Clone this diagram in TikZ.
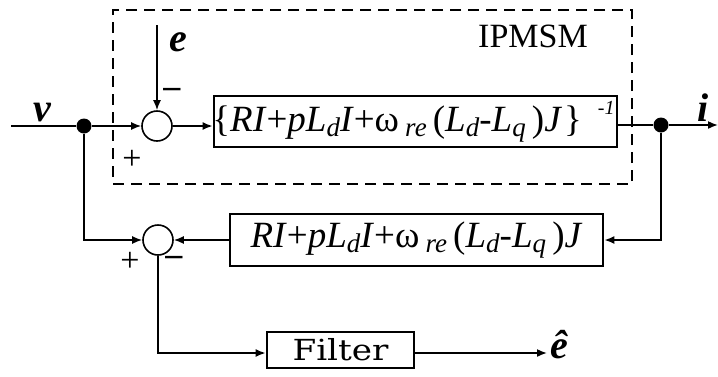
\documentclass[tikz,border=0pt]{standalone}
\usepackage{fontspec}
\setmainfont{Liberation Serif}
\newfontfamily\filterfont{DejaVu Serif}
\usetikzlibrary{arrows.meta}
\tikzset{
  conn/.style={line width=1.6pt, -{Latex[length=10pt,width=8pt]}},
  wire/.style={line width=1.6pt},
  blk/.style={draw, line width=2.8pt, inner sep=0pt, font=\fontsize{37}{37}\selectfont},
  sumpt/.style={draw, circle, line width=1.6pt, minimum size=30pt, inner sep=0pt},
  dotpt/.style={fill, circle, minimum size=15pt, inner sep=0pt},
  plantbox/.style={draw, dashed, line width=1.4pt, dash pattern=on 11pt off 7pt, inner sep=0pt},
  sig/.style={font=\fontsize{40}{40}\selectfont\bfseries\itshape, inner sep=0pt},
  sgn/.style={font=\fontsize{34}{34}\selectfont, inner sep=0pt},
}
% italic subscript set a little below the baseline
\newcommand{\lowidx}[1]{\raisebox{-5pt}{\fontsize{27}{27}\selectfont\textit{#1}}}
\newcommand{\opexpr}{\textit{RI}+\textit{pL}\lowidx{d}\textit{I}+ω\,\lowidx{re}\,(\textit{L}\lowidx{d}-\textit{L}\lowidx{q}\,)\textit{J}}
\begin{document}
\begin{tikzpicture}[x=1pt, y=-1pt]
  \useasboundingbox (0,0) rectangle (718,376);

  % motor model boundary
  \node[plantbox, minimum width=519pt, minimum height=174pt] (plant) at (372.5,97) {};
  \node[font=\fontsize{34}{34}\selectfont, inner sep=0pt] (plantlab) at (533,36) {IPMSM};

  % forward path
  \coordinate (in) at (11,126);
  \node[dotpt] (j1) at (84,126) {};
  \node[sumpt] (s1) at (157,126) {};
  \coordinate (etop) at (157,25);
  \node[blk, minimum width=403pt, minimum height=51pt] (b1) at (415.5,121.5)
    {\hspace{-4pt}\{\opexpr\hspace{2pt}\}\hspace{16pt}\raisebox{17pt}{\fontsize{20}{20}\selectfont\textit{-1}}};
  \node[dotpt] (j2) at (661,125) {};
  \coordinate (out) at (718,125);

  % estimator path
  \node[sumpt] (s2) at (158,240) {};
  \node[blk, minimum width=373pt, minimum height=52pt] (b2) at (416.5,240) {\opexpr\hspace{10pt}};
  \node[blk, minimum width=147pt, minimum height=36pt] (filt) at (340.5,350)
    {\filterfont\fontsize{29}{29}\selectfont\scalebox{1.18}[1]{Filter}};
  \coordinate (ehat) at (547,353);

  % signal labels
  \node[sig] (vlab) at (42,112) {v};
  \node[sig] (elab) at (178,42) {e};
  \node[sig] (ilab) at (703,108) {i};
  \node[sig, anchor=west] (ehatlab) at (550,345) {ê};
  \node[sgn] (m1) at (172,93) {\textbf{–}};
  \node[sgn] (p1) at (132,160) {+};
  \node[sgn] (p2) at (130,262) {+};
  \node[sgn] (m2) at (174,261) {\textbf{–}};

  % connectors
  \draw[wire] (in) -- (j1);
  \draw[conn] (j1) -- (s1);
  \draw[conn] (etop) -- (s1.north);
  \draw[conn] (s1.east) -- (b1.west |- s1.east);
  \draw[wire] (b1.east |- j2) -- (j2);
  \draw[conn] (j2) -- (out);
  \draw[conn] (j2) |- (b2.east);
  \draw[conn] (b2.west) -- (s2.east);
  \draw[conn] (j1) |- (s2.west);
  \draw[conn] (s2.south) |- (filt.west |- ehat);
  \draw[conn] (filt.east |- ehat) -- (ehat);
\end{tikzpicture}
\end{document}
